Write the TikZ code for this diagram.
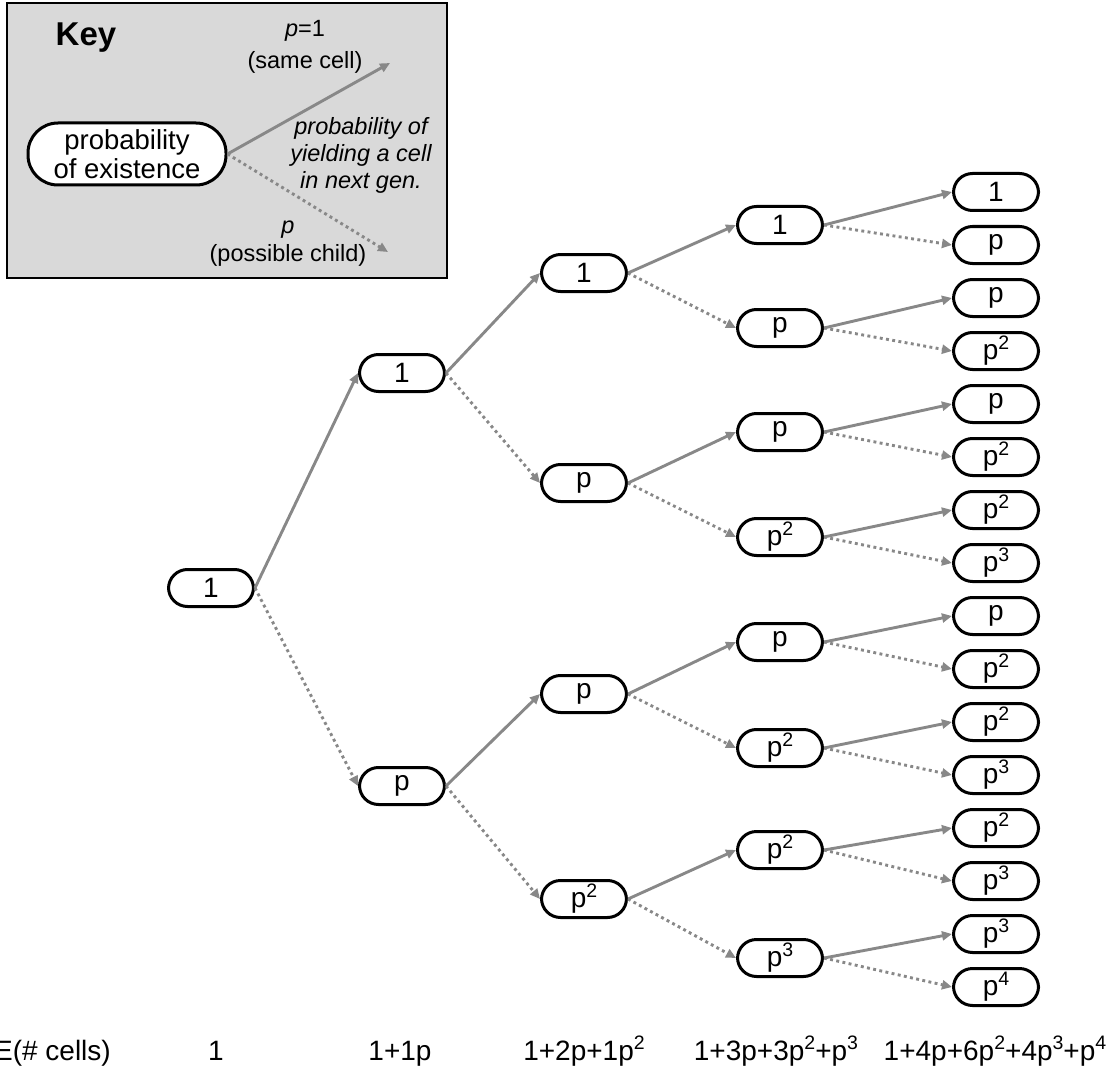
\documentclass[tikz,border=0pt]{standalone}
\usepackage{fontspec}
\setmainfont{Liberation Sans}
\usetikzlibrary{arrows.meta}
\definecolor{edgegray}{RGB}{136,136,136}
\newcommand{\sq}[1]{\raisebox{.36em}{\fontsize{19.5}{20}\selectfont #1}}

\begin{document}
\begin{tikzpicture}[x=1pt,y=-1pt,
cell/.style={draw,line width=3pt,rounded corners=19pt,fill=white,
  minimum width=85pt,minimum height=37pt,inner sep=0pt,
  font=\fontsize{28}{32}\selectfont},
same/.style={draw=edgegray,line width=2.9pt,-{Triangle[length=10pt,width=9pt]}},
child/.style={same,dash pattern=on 2.9pt off 3.4pt},
note/.style={align=center,inner sep=0pt,font=\fontsize{23.5}{29}\selectfont}]
\useasboundingbox (0,0) rectangle (1112,1070);

% Key
\draw[line width=2.8pt,fill=gray!30] (7,3) rectangle (447,278);
\node[font=\fontsize{33}{36}\selectfont\bfseries] (keytitle) at (86,38) {Key};
\node[cell,minimum width=198pt,minimum height=62pt,rounded corners=30pt,
  font=\fontsize{27.5}{31}\selectfont,align=center] (keycell) at (127,154)
  {probability\\[-2pt]of existence};
\coordinate (keysame) at (390,63);
\coordinate (keychild) at (388,252);
\draw[same] (keycell.east) -- (keysame);
\draw[child] (keycell.east) -- (keychild);
\node[note,font=\fontsize{23.5}{32}\selectfont] (samelabel) at (305,47)
  {\textit{p}=1\\(same cell)};
\node[note,font=\fontsize{23.5}{27}\selectfont\itshape] (yieldlabel) at (361,155)
  {probability of\\yielding a cell\\in next gen.};
\node[note,font=\fontsize{23.5}{28}\selectfont] (childlabel) at (288,244)
  {\textit{p}\\(possible child)};

% Generation 0 and 1
\node[cell] (g0) at (211,588) {1};
\node[cell] (g1a) at (402,373) {1};
\node[cell] (g1b) at (402,786) {p};

% Generation 2
\node[cell] (g2a) at (584,273) {1};
\node[cell] (g2b) at (584,483) {p};
\node[cell] (g2c) at (584,694) {p};
\node[cell] (g2d) at (584,899) {p\sq{2}};

% Generation 3
\node[cell] (g3a) at (780,225) {1};
\node[cell] (g3b) at (780,328) {p};
\node[cell] (g3c) at (780,432) {p};
\node[cell] (g3d) at (780,537) {p\sq{2}};
\node[cell] (g3e) at (780,642) {p};
\node[cell] (g3f) at (780,748) {p\sq{2}};
\node[cell] (g3g) at (780,850) {p\sq{2}};
\node[cell] (g3h) at (780,958) {p\sq{3}};

% Generation 4
\node[cell] (g4a) at (996,192) {1};
\node[cell] (g4b) at (996,245) {p};
\node[cell] (g4c) at (996,298) {p};
\node[cell] (g4d) at (996,351) {p\sq{2}};
\node[cell] (g4e) at (996,404) {p};
\node[cell] (g4f) at (996,457) {p\sq{2}};
\node[cell] (g4g) at (996,510) {p\sq{2}};
\node[cell] (g4h) at (996,563) {p\sq{3}};
\node[cell] (g4i) at (996,616) {p};
\node[cell] (g4j) at (996,669) {p\sq{2}};
\node[cell] (g4k) at (996,722) {p\sq{2}};
\node[cell] (g4l) at (996,775) {p\sq{3}};
\node[cell] (g4m) at (996,828) {p\sq{2}};
\node[cell] (g4n) at (996,881) {p\sq{3}};
\node[cell] (g4o) at (996,934) {p\sq{3}};
\node[cell] (g4p) at (996,987) {p\sq{4}};

% Edges
\draw[same] (g0.east) -- (g1a.west);
\draw[child] (g0.east) -- (g1b.west);

\draw[same] (g1a.east) -- (g2a.west);
\draw[child] (g1a.east) -- (g2b.west);
\draw[same] (g1b.east) -- (g2c.west);
\draw[child] (g1b.east) -- (g2d.west);

\draw[same] (g2a.east) -- (g3a.west);
\draw[child] (g2a.east) -- (g3b.west);
\draw[same] (g2b.east) -- (g3c.west);
\draw[child] (g2b.east) -- (g3d.west);
\draw[same] (g2c.east) -- (g3e.west);
\draw[child] (g2c.east) -- (g3f.west);
\draw[same] (g2d.east) -- (g3g.west);
\draw[child] (g2d.east) -- (g3h.west);

\draw[same] (g3a.east) -- (g4a.west);
\draw[child] (g3a.east) -- (g4b.west);
\draw[same] (g3b.east) -- (g4c.west);
\draw[child] (g3b.east) -- (g4d.west);
\draw[same] (g3c.east) -- (g4e.west);
\draw[child] (g3c.east) -- (g4f.west);
\draw[same] (g3d.east) -- (g4g.west);
\draw[child] (g3d.east) -- (g4h.west);
\draw[same] (g3e.east) -- (g4i.west);
\draw[child] (g3e.east) -- (g4j.west);
\draw[same] (g3f.east) -- (g4k.west);
\draw[child] (g3f.east) -- (g4l.west);
\draw[same] (g3g.east) -- (g4m.west);
\draw[child] (g3g.east) -- (g4n.west);
\draw[same] (g3h.east) -- (g4o.west);
\draw[child] (g3h.east) -- (g4p.west);

% Expected number of cells
\begin{scope}[every node/.style={anchor=base,inner sep=0pt,font=\fontsize{28}{32}\selectfont}]
\node[anchor=base east] (sumlabel) at (111,1060) {E(\# cells)};
\node (sum0) at (216,1060) {1};
\node (sum1) at (400,1060) {1+1p};
\node (sum2) at (584,1060) {1+2p+1p\sq{2}};
\node (sum3) at (776,1060) {1+3p+3p\sq{2}+p\sq{3}};
\node (sum4) at (995,1060) {1+4p+6p\sq{2}+4p\sq{3}+p\sq{4}};
\end{scope}

\end{tikzpicture}
\end{document}
